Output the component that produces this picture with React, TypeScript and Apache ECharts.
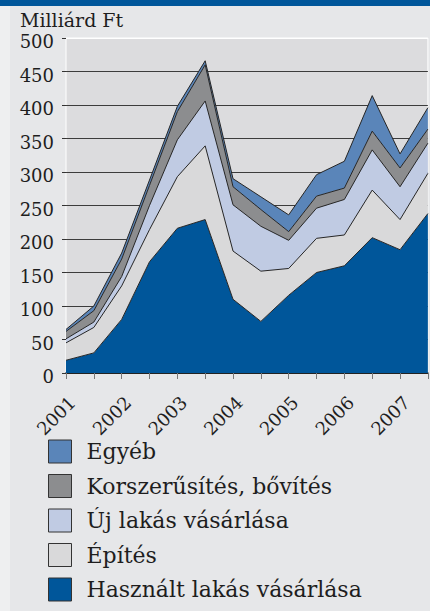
import React, { useEffect, useRef } from "react";
import * as echarts from "echarts";

const xLabels = ["2001", "", "2002", "", "2003", "", "2004", "", "2005", "", "2006", "", "2007", ""];
const seriesNames = [
  "Használt lakás vásárlása",
  "Építés",
  "Új lakás vásárlása",
  "Korszerűsítés, bővítés",
  "Egyéb",
];
const hasznalt = [19, 30, 80, 166, 216, 229, 110, 77, 116, 150, 160, 202, 184, 238];
const epites = [26, 38, 50, 48, 77, 110, 72, 75, 40, 51, 46, 71, 45, 60];
const ujLakas = [6, 8, 14, 36, 55, 67, 69, 67, 42, 45, 53, 60, 49, 45];
const korszerusites = [11, 17, 26, 30, 42, 54, 27, 25, 13, 18, 17, 28, 28, 21];
const egyeb = [3, 7, 9, 8, 8, 6, 12, 19, 25, 32, 40, 53, 21, 32];
const yTicks = [0, 50, 100, 150, 200, 250, 300, 350, 400, 450, 500];
const unitLabel = "Milliárd Ft";

const colors = ["#00569a", "#d9d9da", "#c0cbe3", "#8c8d8f", "#5a85b9"];
const FONT = "DejaVu Serif";

export default function App() {
  const ref = useRef<HTMLDivElement>(null);
  useEffect(() => {
    document.body.style.margin = "0";
    if (!ref.current) return;
    const chart = echarts.init(ref.current, null, { renderer: "svg" });
    const values = [hasznalt, epites, ujLakas, korszerusites, egyeb];
    chart.setOption({
      animation: false,
      backgroundColor: "#e6e7e9",
      graphic: [
        { type: "rect", left: 0, top: 0, z: -10, shape: { x: 0, y: 0, width: 10, height: 611 }, style: { fill: "#eeeff0" } },
        { type: "rect", left: 0, top: 0, z: 10, shape: { x: 0, y: 0, width: 430, height: 6 }, style: { fill: "#00569a" } },
        {
          type: "text",
          x: 20,
          y: 19.5,
          style: { text: unitLabel, font: `19px '${FONT}'`, fill: "#1e1e1e", verticalAlign: "middle" },
        },
      ],
      grid: {
        left: 66,
        top: 38,
        right: -3,
        bottom: 238,
        show: true,
        backgroundColor: "#dcdcde",
        borderColor: "#ffffff",
        borderWidth: 1,
      },
      legend: {
        orient: "vertical",
        left: 48,
        top: 439,
        padding: 0,
        itemWidth: 23,
        itemHeight: 23,
        itemGap: 9.5,
        icon: "rect",
        data: [...seriesNames].reverse(),
        itemStyle: { borderColor: "#333333", borderWidth: 1 },
        textStyle: { fontFamily: FONT, fontSize: 22, lineHeight: 23, color: "#1e1e1e", padding: [2, 0, 0, 10] },
      },
      xAxis: {
        type: "category",
        data: xLabels,
        boundaryGap: false,
        axisLine: { lineStyle: { color: "#1a1a1a", width: 1.5 } },
        axisTick: { interval: 0, length: 6, lineStyle: { color: "#777777" } },
        axisLabel: {
          interval: 0,
          rotate: 45,
          fontFamily: FONT,
          fontSize: 18,
          color: "#1e1e1e",
          margin: 20,
          verticalAlign: "top",
        },
        splitLine: { show: false },
      },
      yAxis: {
        type: "value",
        min: 0,
        max: 500,
        interval: 50,
        axisLine: { show: false },
        axisTick: { show: true, length: 4, lineStyle: { color: "#333333" } },
        axisLabel: {
          fontFamily: FONT,
          fontSize: 18,
          color: "#1e1e1e",
          margin: 12,
          verticalAlign: "top",
          lineHeight: 7,
        },
        splitLine: {
          lineStyle: { color: yTicks.map((t) => (t === 500 ? "#ffffff" : "#3c3c3c")), width: 1 },
        },
      },
      series: seriesNames.map((name, i) => ({
        name,
        type: "line",
        stack: "total",
        data: values[i],
        symbol: "none",
        color: colors[i],
        itemStyle: { color: colors[i] },
        lineStyle: { color: "#262626", width: 1 },
        areaStyle: { color: colors[i], opacity: 1 },
      })),
    });
    return () => chart.dispose();
  }, []);
  return <div ref={ref} style={{ width: 430, height: 611 }} />;
}
